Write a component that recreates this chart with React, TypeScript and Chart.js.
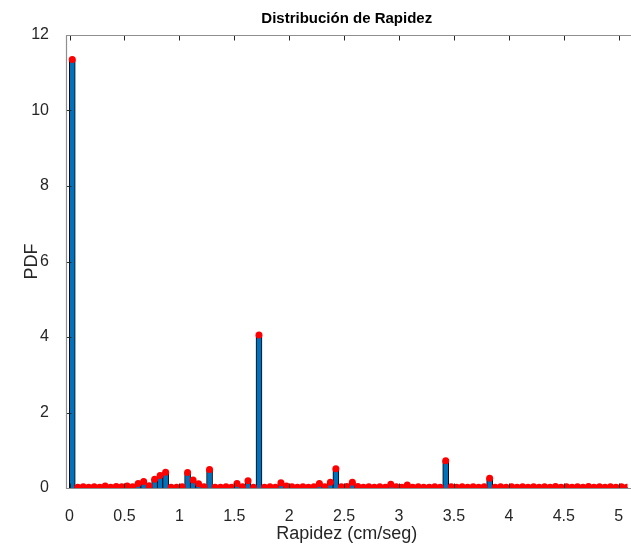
import React, { useEffect, useRef } from 'react';
import { Chart, registerables } from 'chart.js';

Chart.register(...registerables);

const binCenters = [
  0.025, 0.075, 0.125, 0.175, 0.225, 0.275, 0.325, 0.375, 0.425, 0.475,
  0.525, 0.575, 0.625, 0.675, 0.725, 0.775, 0.825, 0.875, 0.925, 0.975,
  1.025, 1.075, 1.125, 1.175, 1.225, 1.275, 1.325, 1.375, 1.425, 1.475,
  1.525, 1.575, 1.625, 1.675, 1.725, 1.775, 1.825, 1.875, 1.925, 1.975,
  2.025, 2.075, 2.125, 2.175, 2.225, 2.275, 2.325, 2.375, 2.425, 2.475,
  2.525, 2.575, 2.625, 2.675, 2.725, 2.775, 2.825, 2.875, 2.925, 2.975,
  3.025, 3.075, 3.125, 3.175, 3.225, 3.275, 3.325, 3.375, 3.425, 3.475,
  3.525, 3.575, 3.625, 3.675, 3.725, 3.775, 3.825, 3.875, 3.925, 3.975,
  4.025, 4.075, 4.125, 4.175, 4.225, 4.275, 4.325, 4.375, 4.425, 4.475,
  4.525, 4.575, 4.625, 4.675, 4.725, 4.775, 4.825, 4.875, 4.925, 4.975,
  5.025, 5.075, 5.125,
];

const pdfValues = [
  11.35, 0.02, 0.03, 0.02, 0.03, 0.02, 0.05, 0.02, 0.04, 0.03,
  0.05, 0.03, 0.12, 0.17, 0.06, 0.23, 0.33, 0.42, 0.02, 0.02,
  0.03, 0.41, 0.21, 0.11, 0.03, 0.49, 0.02, 0.02, 0.03, 0.02,
  0.12, 0.03, 0.19, 0.02, 4.05, 0.02, 0.03, 0.02, 0.14, 0.05,
  0.03, 0.02, 0.03, 0.02, 0.03, 0.12, 0.03, 0.15, 0.51, 0.03,
  0.04, 0.15, 0.04, 0.02, 0.03, 0.02, 0.03, 0.02, 0.10, 0.03,
  0.02, 0.08, 0.02, 0.03, 0.02, 0.02, 0.03, 0.02, 0.72, 0.03,
  0.02, 0.03, 0.02, 0.03, 0.02, 0.03, 0.26, 0.02, 0.03, 0.02,
  0.03, 0.02, 0.03, 0.02, 0.03, 0.02, 0.03, 0.02, 0.04, 0.02,
  0.03, 0.02, 0.03, 0.02, 0.04, 0.02, 0.03, 0.02, 0.03, 0.02,
  0.03, 0.02, 0.03,
];

const xTicks = [0, 0.5, 1, 1.5, 2, 2.5, 3, 3.5, 4, 4.5, 5];
const yTicks = [0, 2, 4, 6, 8, 10, 12];

const titleText = 'Distribución de Rapidez';
const xLabel = 'Rapidez (cm/seg)';
const yLabel = 'PDF';

const FONT = '"Liberation Sans", Arial, Helvetica, sans-serif';
const TEXT = '#262626';

export default function App() {
  const ref = useRef<HTMLCanvasElement>(null);

  useEffect(() => {
    if (!ref.current) return;
    const pts = binCenters.map((x, i) => ({ x, y: pdfValues[i] }));

    const boxPlugin = {
      id: 'matlabBox',
      afterDraw(chart: any) {
        const { ctx, chartArea } = chart;
        const { left, right, top, bottom } = chartArea;
        const xs = chart.scales.x;
        const ys = chart.scales.y;
        const L = Math.round(left) + 0.5;
        const R = Math.round(right) - 0.5;
        const T = Math.round(top) + 0.5;
        const B = Math.round(bottom) + 0.5;
        ctx.save();
        ctx.strokeStyle = '#262626';
        ctx.lineWidth = 1;
        ctx.beginPath();
        xs.ticks.forEach((t: any) => {
          const px = Math.round(xs.getPixelForValue(t.value)) + 0.5;
          ctx.moveTo(px, B);
          ctx.lineTo(px, B - 5);
          ctx.moveTo(px, T);
          ctx.lineTo(px, T + 5);
        });
        ys.ticks.forEach((t: any) => {
          const py = Math.round(ys.getPixelForValue(t.value)) + 0.5;
          ctx.moveTo(L, py);
          ctx.lineTo(L + 5, py);
        });
        ctx.stroke();
        ctx.strokeStyle = '#8f8f8f';
        ctx.lineWidth = 1.2;
        ctx.beginPath();
        ctx.moveTo(L, T);
        ctx.lineTo(R + 10, T);
        ctx.moveTo(L, T);
        ctx.lineTo(L, B);
        ctx.lineTo(R + 10, B);
        ctx.stroke();
        ctx.restore();
      },
    };

    const chart = new Chart(ref.current, {
      type: 'bar',
      data: {
        datasets: [
          {
            type: 'line',
            data: pts,
            showLine: false,
            borderColor: '#ff0000',
            pointRadius: 3.5,
            pointHoverRadius: 3.5,
            pointBackgroundColor: '#ff0000',
            pointBorderWidth: 0,
            order: 1,
          } as any,
          {
            type: 'bar',
            data: pts,
            backgroundColor: '#0072BD',
            borderColor: '#000000',
            borderWidth: 1,
            barThickness: 6,
            order: 2,
          } as any,
        ],
      },
      plugins: [boxPlugin],
      options: {
        responsive: false,
        animation: false,
        devicePixelRatio: 1,
        layout: { padding: { left: 0, right: 0, top: 0, bottom: 0 } },
        plugins: {
          legend: { display: false },
          tooltip: { enabled: false },
          title: {
            display: true,
            text: titleText,
            fullSize: false,
            color: '#000',
            font: { family: FONT, size: 15, weight: 'bold' },
            padding: { top: 10, bottom: 7 },
          },
        },
        scales: {
          x: {
            type: 'linear',
            offset: false,
            min: -0.032,
            max: 5.08,
            grid: { display: false, offset: false },
            border: { display: false },
            afterFit(scale: any) {
              scale.height = 60;
              scale.paddingLeft = 0;
              scale.paddingRight = 0;
            },
            afterBuildTicks(scale: any) {
              scale.ticks = xTicks.map((v) => ({ value: v }));
            },
            ticks: {
              autoSkip: false,
              maxRotation: 0,
              padding: 11,
              color: TEXT,
              font: { family: FONT, size: 16 },
              callback: (v: any) => String(v),
            },
            title: {
              display: true,
              text: xLabel,
              color: TEXT,
              font: { family: FONT, size: 18 },
              padding: { top: 0, bottom: 3 },
            },
          },
          y: {
            type: 'linear',
            min: 0,
            max: 12,
            grid: { display: false },
            border: { display: false },
            afterFit(scale: any) {
              scale.width = 66;
              scale.paddingTop = 0;
              scale.paddingBottom = 0;
            },
            afterBuildTicks(scale: any) {
              scale.ticks = yTicks.map((v) => ({ value: v }));
            },
            ticks: {
              padding: 9,
              color: TEXT,
              font: { family: FONT, size: 16 },
              callback: (v: any) => String(v),
            },
            title: {
              display: true,
              text: yLabel,
              color: TEXT,
              font: { family: FONT, size: 18 },
              padding: { top: 21, bottom: 0 },
            },
          },
        },
      } as any,
    });

    return () => chart.destroy();
  }, []);

  return (
    <div
      style={{
        position: 'fixed',
        left: 0,
        top: 0,
        width: 631,
        height: 548,
        overflow: 'hidden',
        background: '#ffffff',
      }}
    >
      <canvas
        ref={ref}
        width={631}
        height={548}
        style={{ display: 'block', width: 631, height: 548 }}
      />
    </div>
  );
}
